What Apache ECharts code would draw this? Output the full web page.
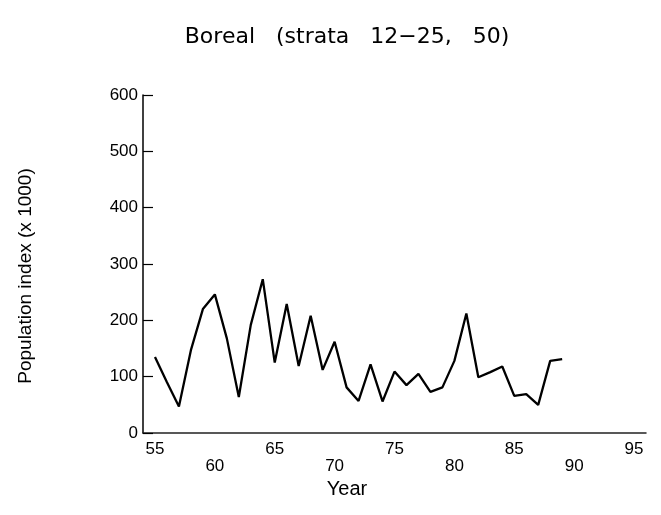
<!DOCTYPE html>
<html>
<head>
<meta charset="utf-8">
<script src="https://cdn.jsdelivr.net/npm/echarts@6/dist/echarts.min.js"></script>
<style>
  html, body { margin: 0; padding: 0; background: #fff; }
  #chart { width: 661px; height: 515px; }
</style>
</head>
<body>
<div id="chart"></div>
<script>
// values
const years = [55, 56, 57, 58, 59, 60, 61, 62, 63, 64, 65, 66, 67, 68, 69, 70, 71, 72,
  73, 74, 75, 76, 77, 78, 79, 80, 81, 82, 83, 84, 85, 86, 87, 88, 89]
const popIndex = [135, 90, 47, 147, 220, 246, 168, 64, 192, 273, 125, 229, 119, 208, 112, 162, 81, 57,
  122, 56, 109, 85, 105, 73, 81, 128, 212, 99, 108, 118, 66, 69, 50, 128, 131]
const xTicks = [55, 60, 65, 70, 75, 80, 85, 90, 95]

const myChart = echarts.init(document.getElementById('chart'))
const font = 'Liberation Sans, Arial, sans-serif'

const option = {
  animation: false,
  title: {
    text: 'Boreal   (strata   12\u221225,   50)',
    left: 342,
    top: 21,
    textAlign: 'center',
    textStyle: {
      fontFamily: 'DejaVu Sans, sans-serif',
      fontWeight: 'normal',
      fontSize: 22,
      color: '#000'
    }
  },
  grid: {
    left: 143,
    right: 15,
    top: 95,
    bottom: 82
  },
  xAxis: {
    type: 'value',
    min: 54,
    max: 96,
    name: 'Year',
    nameLocation: 'middle',
    nameGap: 46,
    nameTextStyle: {
      fontFamily: font,
      fontSize: 20,
      color: '#000',
      padding: [0, 95, 0, 0]
    },
    axisLine: { lineStyle: { color: '#222', width: 1.5 } },
    axisTick: { show: false },
    splitLine: { show: false },
    axisLabel: {
      customValues: xTicks,
      margin: 8,
      fontFamily: font,
      fontSize: 17,
      lineHeight: 17,
      color: '#000',
      formatter: v => (v % 10 === 0 ? '\n' : '') + v // alternate rows
    }
  },
  yAxis: {
    type: 'value',
    min: 0,
    max: 600,
    interval: 100,
    name: 'Population index (x 1000)',
    nameLocation: 'middle',
    nameGap: 108,
    nameTextStyle: {
      fontFamily: font,
      fontSize: 19,
      color: '#000',
      padding: [0, 24, 0, 0]
    },
    axisLine: { show: true, lineStyle: { color: '#000', width: 1.5 } },
    axisTick: { show: true, inside: true, length: 10, lineStyle: { color: '#000', width: 1.2 } },
    splitLine: { show: false },
    axisLabel: {
      margin: 5,
      fontFamily: font,
      fontSize: 17,
      color: '#000'
    }
  },
  series: [
    {
      type: 'line',
      data: years.map((y, i) => [y, popIndex[i]]),
      showSymbol: false,
      lineStyle: { color: '#000', width: 2.3 }
    }
  ]
}
myChart.setOption(option)
</script>
</body>
</html>
